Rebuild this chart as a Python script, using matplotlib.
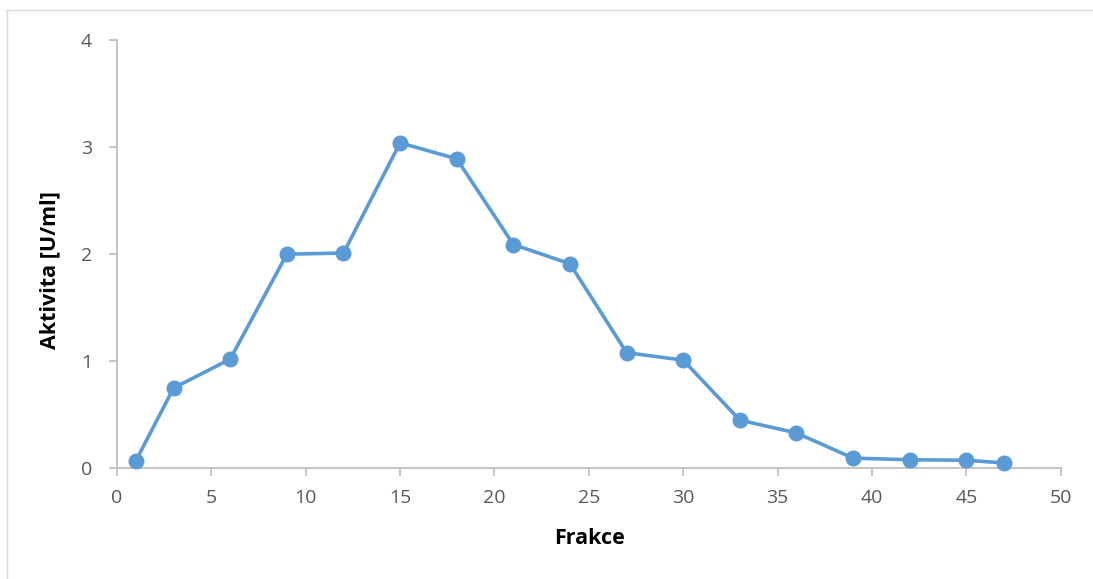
import matplotlib
matplotlib.use("Agg")
import matplotlib.pyplot as plt
from matplotlib.lines import Line2D

fraction = [1, 3, 6, 9, 12, 15, 18, 21, 24, 27, 30, 33, 36, 39, 42, 45, 47]
activity = [0.07, 0.75, 1.02, 2.00, 2.01, 3.04, 2.89, 2.09, 1.91, 1.08, 1.01,
            0.45, 0.33, 0.095, 0.08, 0.075, 0.05]
x_ticks = [0, 5, 10, 15, 20, 25, 30, 35, 40, 45, 50]
y_ticks = [0, 1, 2, 3, 4]
x_label = "Frakce"
y_label = "Aktivita [U/ml]"

plt.rcParams['font.family'] = ['Open Sans', 'DejaVu Sans']

fig = plt.figure(figsize=(10.93, 5.79), dpi=100)
ax = fig.add_axes([117/1093, 1-468.3/579, (1060.7-117)/1093, (468.3-40)/579])

ax.plot(fraction, activity, color='#5B9BD5', lw=2.6, marker='o', ms=10.5,
        markerfacecolor='#5B9BD5', markeredgecolor='#5B9BD5', clip_on=False, zorder=3)

ax.set_xlim(0, 50)
ax.set_ylim(0, 4)
ax.set_xticks(x_ticks)
ax.set_yticks(y_ticks)
for s in ['top', 'right']:
    ax.spines[s].set_visible(False)
for s in ['left', 'bottom']:
    ax.spines[s].set_color('#BFBFBF')
    ax.spines[s].set_linewidth(1.3)
ax.tick_params(axis='both', colors='#BFBFBF', labelcolor='#595959', labelsize=14,
               length=6, width=1.3, direction='out')
ax.tick_params(axis='x', pad=9)
ax.tick_params(axis='y', pad=12)

fig.text(589/1093, 1-538/579, x_label, ha='center', va='center', fontsize=15.5,
         fontweight='bold', color='black')
fig.text(50/1093, 1-270/579, y_label, ha='center', va='center', fontsize=15.5,
         fontweight='bold', color='black', rotation=90)

# chart frame
fig.add_artist(Line2D([7/1093, 7/1093], [0, 1-10/579], transform=fig.transFigure,
                      color='#D9D9D9', lw=1.0))
fig.add_artist(Line2D([7/1093, 1], [1-10/579, 1-10/579], transform=fig.transFigure,
                      color='#D9D9D9', lw=1.0))

fig.savefig('out.png', dpi=100, facecolor='white')
